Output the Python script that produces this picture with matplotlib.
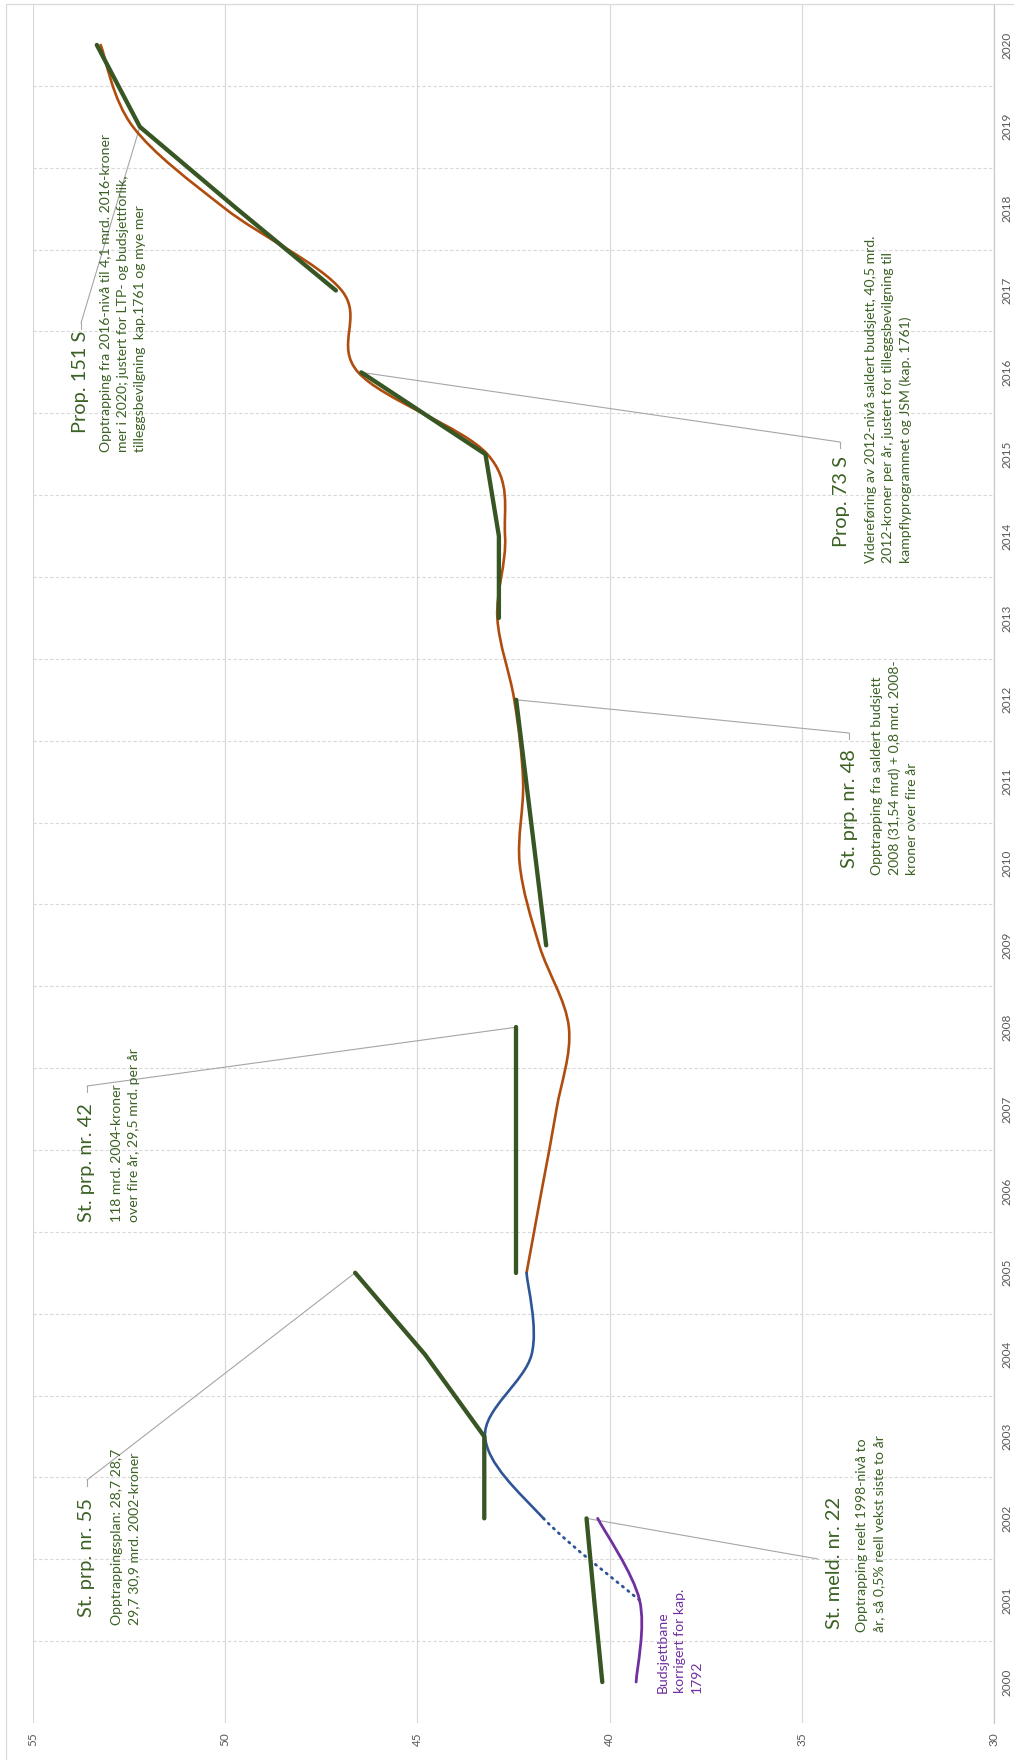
import numpy as np
import matplotlib
matplotlib.use("Agg")
import matplotlib.pyplot as plt
from matplotlib.path import Path
from matplotlib.patches import PathPatch, Rectangle

# ---------------- data ----------------
years = list(range(2000, 2021))
value_ticks = [55, 50, 45, 40, 35, 30]

meld22_years = [2000, 2001, 2002]
meld22_vals = [40.19, 40.40, 40.60]
prp55_years = [2002, 2003, 2004, 2005]
prp55_vals = [43.26, 43.26, 44.80, 46.62]
prp42_years = [2005, 2006, 2007, 2008]
prp42_vals = [42.43, 42.43, 42.43, 42.43]
prp48_years = [2009, 2010, 2011, 2012]
prp48_vals = [41.65, 41.91, 42.17, 42.43]
prop73_years = [2013, 2014, 2015, 2016]
prop73_vals = [42.88, 42.88, 43.23, 46.46]
prop151_years = [2017, 2018, 2019, 2020]
prop151_vals = [47.12, 49.70, 52.22, 53.34]

corr_years = [2000, 2001, 2002]
corr_vals = [39.31, 39.22, 40.31]

blue_years = [2001, 2002, 2003, 2004, 2005]
blue_vals = [39.22, 41.72, 43.24, 42.03, 42.16]

brown_years = list(range(2005, 2021))
brown_vals = [42.16, 41.77, 41.38, 41.06, 41.83, 42.34, 42.25, 42.48,
              42.92, 42.72, 43.18, 46.54, 46.97, 50.00, 52.40, 53.24]

# ---------------- style ----------------
GREEN = "#375623"
TGREEN = "#3b6124"
BROWN = "#b04d0e"
BLUE = "#2f5597"
PURPLE = "#7030a0"
GRID = "#d9d9d9"
LEADER = "#a6a6a6"
FONT = ["Lato", "DejaVu Sans"]

W, H = 1014, 1760
L, R, T, B = 33, 994, 4, 1723

fig = plt.figure(figsize=(W / 100, H / 100), dpi=100)
ax = fig.add_axes([L / W, (H - B) / H, (R - L) / W, (B - T) / H])
ax.set_xlim(55, 30)
ax.set_ylim(1999.5, 2020.5)

for s in ["top", "bottom", "left"]:
    ax.spines[s].set_visible(False)
ax.spines["right"].set_color("#c8c8c8")
ax.spines["right"].set_linewidth(0.9)

ax.set_xticks(value_ticks)
ax.set_xticklabels([str(v) for v in value_ticks])
ax.xaxis.grid(True, color=GRID, lw=0.9)
ax.set_yticks(years)
ax.set_yticklabels([str(y) for y in years])
ax.set_yticks(np.arange(1999.5, 2021.0, 1.0), minor=True)
ax.yaxis.grid(True, which="minor", color=GRID, lw=0.8, linestyle=(0, (3, 2)))
ax.yaxis.grid(False, which="major")
ax.set_axisbelow(True)

ax.tick_params(axis="y", which="both", length=0, left=False, right=False,
               labelleft=False, labelright=True)
ax.tick_params(axis="y", which="major", labelsize=8.5, labelcolor="#595959",
               labelrotation=90, pad=5.5)
ax.tick_params(axis="x", length=0, labelsize=8.5, labelcolor="#595959",
               labelrotation=90, pad=7)
for lbl in ax.get_yticklabels():
    lbl.set_va("center")
    lbl.set_family(FONT)
for lbl in ax.get_xticklabels():
    lbl.set_family(FONT)

# outer chart border
fig.add_artist(Rectangle((6 / W, -0.5), 1.0, 0.5 + (H - 4) / H,
                         transform=fig.transFigure, fill=False,
                         edgecolor=GRID, lw=0.9))


def smooth_segments(xs, ys):
    """Excel-like smoothed line: one cubic Bezier per segment."""
    P = np.column_stack([ys, xs]).astype(float)  # (value, year)
    n = len(P)
    segs = []
    for i in range(n - 1):
        p_prev = P[i - 1] if i > 0 else P[i]
        p_n2 = P[i + 2] if i + 2 < n else P[i + 1]
        c1 = P[i] + (P[i + 1] - p_prev) / 6.0
        c2 = P[i + 1] - (p_n2 - P[i]) / 6.0
        segs.append([P[i], c1, c2, P[i + 1]])
    return segs


def draw_smooth(xs, ys, color, lw, seg_idx=None, ls="-", z=3, cap="round"):
    segs = smooth_segments(xs, ys)
    if seg_idx is None:
        seg_idx = range(len(segs))
    verts, codes = [], []
    for k in seg_idx:
        s = segs[k]
        if not verts:
            verts.append(s[0]); codes.append(Path.MOVETO)
        verts += [s[1], s[2], s[3]]
        codes += [Path.CURVE4] * 3
    patch = PathPatch(Path(verts, codes), fill=False, edgecolor=color, lw=lw,
                      linestyle=ls, capstyle=cap, joinstyle="round", zorder=z)
    ax.add_patch(patch)


# actual budget lines
draw_smooth(brown_years, brown_vals, BROWN, 1.9, z=3)
draw_smooth(blue_years, blue_vals, BLUE, 1.9, seg_idx=[1, 2, 3], z=3)
draw_smooth(blue_years, blue_vals, BLUE, 2.0, seg_idx=[0], ls=(0, (0.5, 2.0)), z=3)
draw_smooth(corr_years, corr_vals, PURPLE, 2.0, z=4)

# plan lines
for yy, vv in [(meld22_years, meld22_vals), (prp55_years, prp55_vals),
               (prp42_years, prp42_vals), (prp48_years, prp48_vals),
               (prop73_years, prop73_vals), (prop151_years, prop151_vals)]:
    ax.plot(vv, yy, color=GREEN, lw=3.1, solid_capstyle="round",
            solid_joinstyle="round", zorder=5)


def frac(px, py):
    return ((px - L) / (R - L), (B - py) / (B - T))


def leader(val, yr, px, py, tick=True):
    ax.annotate("", xy=(val, yr), xycoords="data", xytext=frac(px, py),
                textcoords="axes fraction",
                arrowprops=dict(arrowstyle="-", color=LEADER, lw=0.8,
                                shrinkA=0, shrinkB=0), zorder=2)
    if tick:
        fx, fy = frac(px, py)
        fx2, fy2 = frac(px, py + 6)
        ax.plot([fx, fx2], [fy, fy2], transform=ax.transAxes, color=LEADER,
                lw=0.8, zorder=2)


def label(px, py, s, size, color=TGREEN, ls=1.5):
    fx, fy = frac(px, py)
    ax.text(fx, fy, s, transform=ax.transAxes, rotation=90, ha="left",
            va="bottom", fontsize=size, color=color, family=FONT,
            multialignment="left", linespacing=ls, zorder=6)


TS, BS = 14.4, 10.1

# Prop. 151 S
leader(prop151_vals[2], prop151_years[2], 81, 323)
label(72, 433, "Prop. 151 S", TS)
label(100, 452, "Opptrapping fra 2016-nivå til 4,1 mrd. 2016-kroner\n"
      "mer i 2020; justert for LTP- og budsjettforlik,\n"
      "tilleggsbevilgning  kap.1761 og mye mer", BS)

# Prop. 73 S
leader(prop73_vals[3], prop73_years[3], 840, 442)
label(833, 547, "Prop. 73 S", TS)
label(865, 563, "Videreføring av 2012-nivå saldert budsjett, 40,5 mrd.\n"
      "2012-kroner per år, justert for tilleggsbevilgning til\n"
      "kampflyprogrammet og JSM (kap. 1761)", BS)

# St. prp. nr. 48
leader(prp48_vals[3], prp48_years[3], 849, 733)
label(841, 868, "St. prp. nr. 48", TS)
label(871, 875, "Opptrapping fra saldert budsjett\n"
      "2008 (31,54 mrd) + 0,8 mrd. 2008-\n"
      "kroner over fire år", BS)

# St. prp. nr. 42
leader(prp42_vals[3], prp42_years[3], 87, 1086)
label(78, 1222, "St. prp. nr. 42", TS)
label(111, 1222, "118 mrd. 2004-kroner\nover fire år, 29,5 mrd. per år", BS)

# St. prp. nr. 55
leader(prp55_vals[3], prp55_years[3], 87, 1480)
label(78, 1617, "St. prp. nr. 55", TS)
label(111, 1625, "Opptrappingsplan: 28,7 28,7\n29,7 30,9 mrd. 2002-kroner", BS)

# St. meld. nr. 22
leader(meld22_vals[2], meld22_years[2], 818, 1559, tick=False)
label(826, 1629, "St. meld. nr. 22", TS)
label(856, 1632, "Opptrapping reelt 1998-nivå to\når, så 0,5% reell vekst siste to år", BS)

# purple label
label(657, 1693, "Budsjettbane\nkorrigert for kap.\n1792", BS, color=PURPLE)

fig.savefig("out.png", dpi=100)
